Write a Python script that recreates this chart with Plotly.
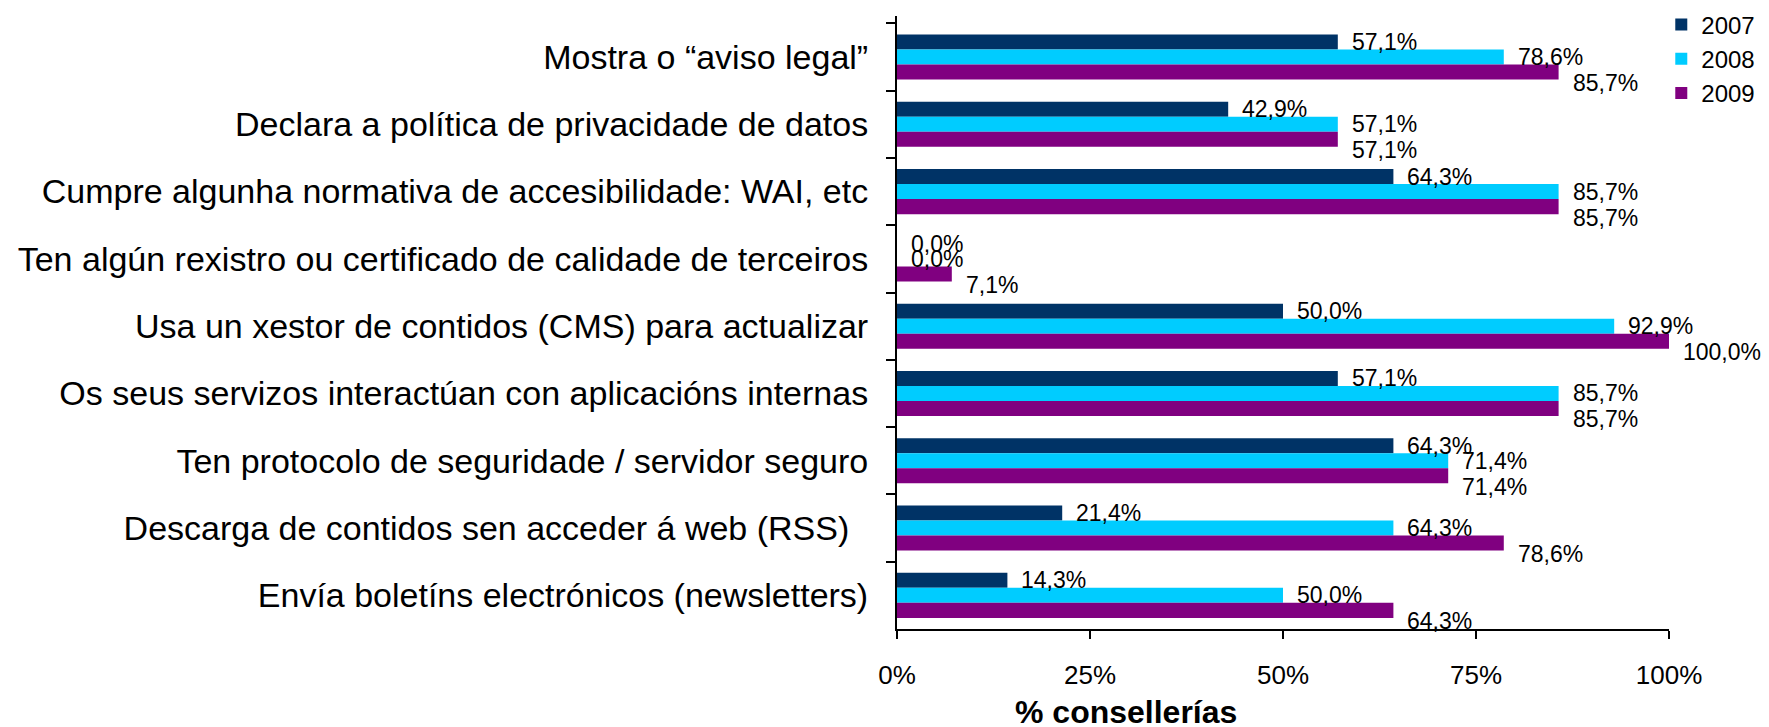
import plotly.graph_objects as go

categories = [
    "Mostra o “aviso legal”",
    "Declara a política de privacidade de datos",
    "Cumpre algunha normativa de accesibilidade: WAI, etc",
    "Ten algún rexistro ou certificado de calidade de terceiros",
    "Usa un xestor de contidos (CMS) para actualizar",
    "Os seus servizos interactúan con aplicacións internas",
    "Ten protocolo de seguridade / servidor seguro",
    "Descarga de contidos sen acceder á web (RSS)\u00a0\u00a0",
    "Envía boletíns electrónicos (newsletters)",
]
years = ["2007", "2008", "2009"]
v2007 = [57.1, 42.9, 64.3, 0.0, 50.0, 57.1, 64.3, 21.4, 14.3]
v2008 = [78.6, 57.1, 85.7, 0.0, 92.9, 85.7, 71.4, 64.3, 50.0]
v2009 = [85.7, 57.1, 85.7, 7.1, 100.0, 85.7, 71.4, 78.6, 64.3]
series = [v2007, v2008, v2009]
colors = ["#003366", "#00CCFF", "#800080"]
x_ticks = [0, 25, 50, 75, 100]

FONT = "Liberation Sans, Arial, sans-serif"

fig = go.Figure()
for name, vals, col in zip(years, series, colors):
    fig.add_trace(go.Bar(
        y=categories, x=[v / 100 for v in vals], name=name, orientation="h",
        marker=dict(color=col, line=dict(width=0)),
    ))

# data labels (per series vertical offset in pixels)
yshifts = [15, 0, -26]
for vals, ys in zip(series, yshifts):
    for cat, v in zip(categories, vals):
        fig.add_annotation(
            x=v / 100, y=cat, xref="x", yref="y",
            text=f"{v:.1f}".replace(".", ",") + "%",
            showarrow=False, xanchor="left", yanchor="middle",
            xshift=12, yshift=ys,
            font=dict(family=FONT, size=23, color="black"),
        )

fig.add_annotation(
    x=0.297, y=-0.135, xref="paper", yref="paper",
    text="<b>% consellerías</b>", showarrow=False,
    xanchor="center", yanchor="middle",
    font=dict(family=FONT, size=32, color="black"),
)

# page body has an 8px margin; size the figure so it fills the window exactly
fig.update_layout(
    width=1761, height=719,
    margin=dict(l=889, r=100, t=8, b=98, autoexpand=False),
    paper_bgcolor="white", plot_bgcolor="white",
    barmode="group", bargap=0.33, bargroupgap=0,
    font=dict(family=FONT, color="black"),
    showlegend=True,
    legend=dict(
        x=0.99, y=1.022, xanchor="left", yanchor="top",
        font=dict(family=FONT, size=24, color="black"),
        bgcolor="rgba(0,0,0,0)", borderwidth=0,
        tracegroupgap=0, itemwidth=30,
    ),
)
fig.update_xaxes(
    range=[0, 1], tickvals=[t / 100 for t in x_ticks],
    ticktext=[f"{t}%" for t in x_ticks],
    showgrid=False, zeroline=False, automargin=False,
    showline=True, linecolor="black", linewidth=2,
    ticks="outside", ticklen=8, tickwidth=2, tickcolor="black",
    tickfont=dict(family=FONT, size=26, color="black"),
    ticklabelstandoff=14,
)
fig.update_yaxes(
    autorange="reversed", type="category",
    showgrid=False, zeroline=False, automargin=False,
    showline=True, linecolor="black", linewidth=2,
    ticks="outside", ticklen=9, tickwidth=2, tickcolor="black",
    tickson="boundaries",
    tickfont=dict(family=FONT, size=34, color="black"),
    ticklabelstandoff=20,
)

fig.write_html("out.html")
